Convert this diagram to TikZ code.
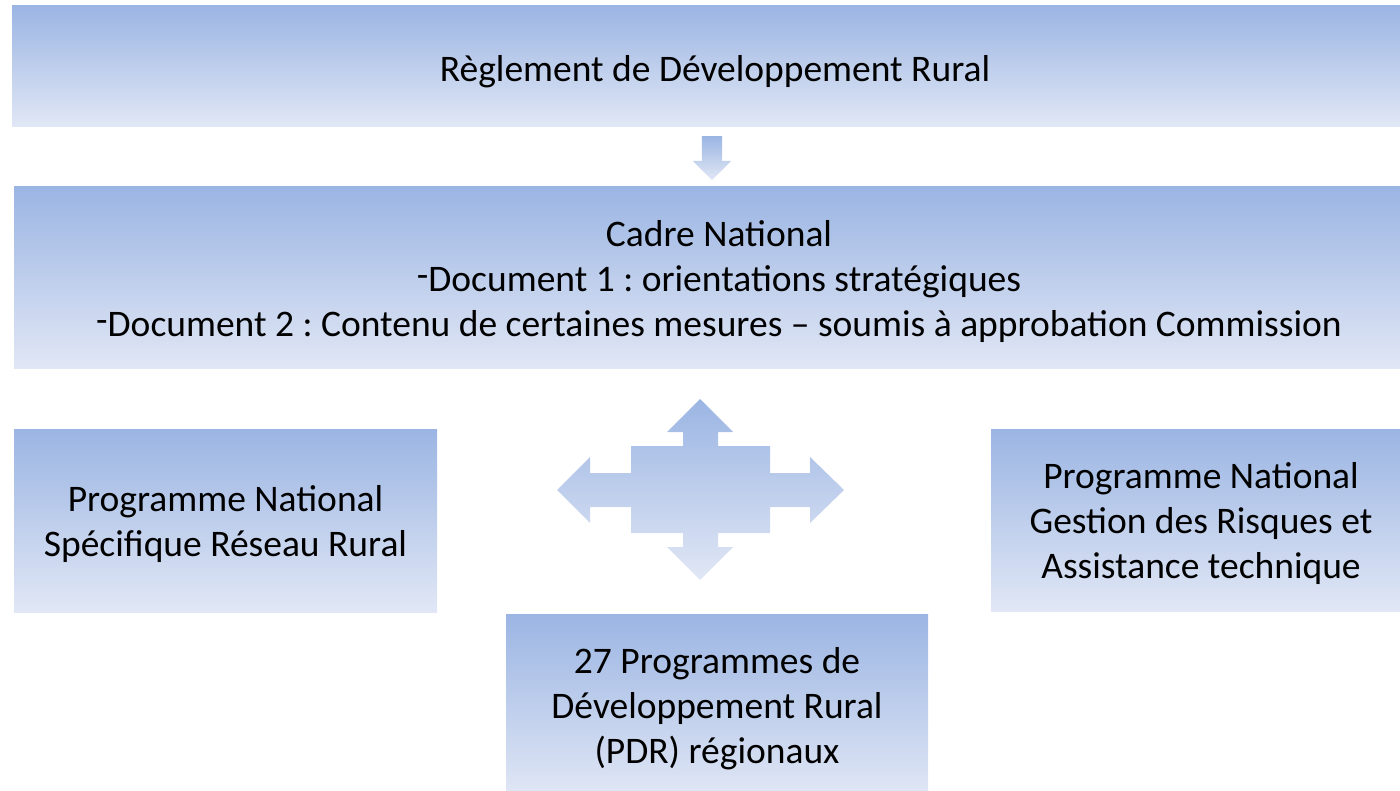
\documentclass[tikz,border=0pt]{standalone}
\usepackage{fontspec}
\setmainfont{Carlito}
\usetikzlibrary{shapes.arrows}
\definecolor{bleuhaut}{RGB}{155,181,227}
\definecolor{bleubas}{RGB}{225,231,245}
\tikzset{
 cadre/.style={rectangle, draw=none, top color=bleuhaut, bottom color=bleubas,
   align=center, inner sep=0pt, font=\fontsize{37.5}{45}\selectfont,
   execute at begin node={\frenchspacing\rule{0pt}{37pt}}},
 multi/.style={text depth=-9pt},
 flechebas/.style={single arrow, draw=none, top color=bleuhaut, bottom color=bleubas,
   shape border rotate=270, minimum height=44, inner xsep=10pt, inner ysep=0pt,
   single arrow head extend=9, single arrow head indent=0}
}
\newcommand{\tiret}{\raisebox{.1em}{-}}
\begin{document}
\begin{tikzpicture}[x=1pt,y=-1pt]
 \clip (0,0) rectangle (1400,791);
 \node[cadre, minimum width=1406, minimum height=121] (reglement) at (715,66.5)
   {Règlement de Développement Rural};
 \node[flechebas] (descente) at (712,153) {};
 %
 \node[cadre, multi, minimum width=1410, minimum height=182] (cadrenat) at (719,278)
   {Cadre National\\ \tiret Document 1 : orientations stratégiques\\
    \tiret Document 2 : Contenu de certaines mesures -- soumis à approbation Commission};
 %
 \node[cadre, multi, minimum width=423, minimum height=183] (reseau) at (225.5,520.5)
   {Programme National\\ Spécifique Réseau Rural};
 \node[cadre, multi, minimum width=420, minimum height=182] (risques) at (1201,520)
   {Programme National\\ Gestion des Risques et\\ Assistance technique};
 \node[cadre, multi, minimum width=422, minimum height=183] (pdr) at (717,705.5)
   {27 Programmes de\\ Développement Rural\\ (PDR) régionaux};
 %
 % fleche a quatre branches
 \shade[top color=bleuhaut, bottom color=bleubas]
   (700,399) -- (733,432) -- (718,432) -- (718,446) -- (770,446) -- (770,473)
   -- (810,473) -- (810,457) -- (844,490) -- (810,523) -- (810,507) -- (770,507)
   -- (770,533) -- (718,533) -- (718,547) -- (733,547) -- (700,580) -- (667,547)
   -- (683,547) -- (683,533) -- (631,533) -- (631,507) -- (590,507) -- (590,523)
   -- (557,490) -- (590,457) -- (590,473) -- (631,473) -- (631,446) -- (683,446)
   -- (683,432) -- (667,432) -- cycle;
\end{tikzpicture}
\end{document}
